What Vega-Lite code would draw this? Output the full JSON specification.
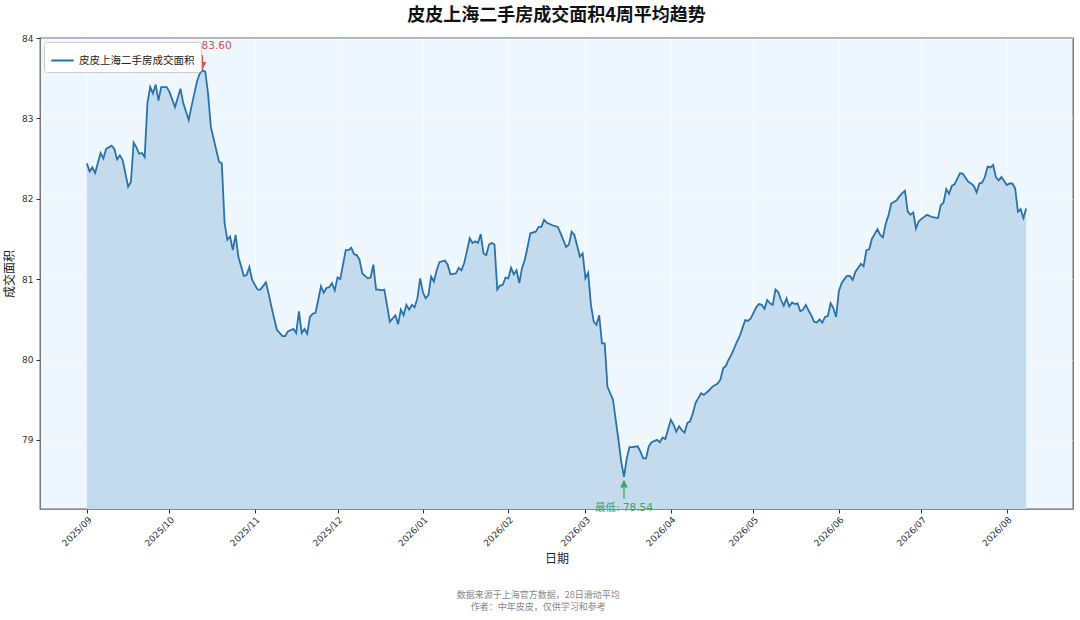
{
  "$schema": "https://vega.github.io/schema/vega-lite/v6.json",
  "background": "white",
  "padding": {"left": 2, "top": 6, "right": 5, "bottom": 5},
  "config": {
    "font": "DejaVu Sans, Noto Sans CJK SC",
    "view": {"fill": "#eef7fd", "stroke": "#666666", "strokeWidth": 1.3},
    "axis": {"domain": false, "tickColor": "#333333", "tickSize": 4, "labelColor": "#333333", "labelFontSize": 9, "gridColor": "#ffffff", "gridOpacity": 0.45, "titleColor": "#222222", "titleFontSize": 12, "titleFontWeight": "normal", "titleFont": "Noto Sans CJK SC, DejaVu Sans"}
  },
  "title": {
    "text": ["数据来源于上海官方数据，28日滑动平均", "作者：中年皮皮，仅供学习和参考"],
    "orient": "bottom",
    "anchor": "middle",
    "fontSize": 9,
    "fontWeight": "normal",
    "color": "#888888",
    "lineHeight": 12,
    "offset": 26,
    "font": "Noto Sans CJK SC, DejaVu Sans"
  },
  "vconcat": [
    {
      "width": 1033,
      "height": 471,
      "title": {"text": "皮皮上海二手房成交面积4周平均趋势", "fontSize": 18, "fontWeight": "bold", "color": "#111111", "offset": 9, "font": "Noto Sans CJK SC, DejaVu Sans"},
      "data": {"values": [
        {"date": "2025-09-01", "value": 82.44}, {"date": "2025-09-02", "value": 82.34}, {"date": "2025-09-03", "value": 82.39}, {"date": "2025-09-04", "value": 82.32},
        {"date": "2025-09-06", "value": 82.57}, {"date": "2025-09-07", "value": 82.50}, {"date": "2025-09-08", "value": 82.62}, {"date": "2025-09-10", "value": 82.66},
        {"date": "2025-09-11", "value": 82.62}, {"date": "2025-09-12", "value": 82.49}, {"date": "2025-09-13", "value": 82.54}, {"date": "2025-09-14", "value": 82.48},
        {"date": "2025-09-16", "value": 82.15}, {"date": "2025-09-17", "value": 82.21}, {"date": "2025-09-18", "value": 82.70}, {"date": "2025-09-19", "value": 82.64},
        {"date": "2025-09-20", "value": 82.56}, {"date": "2025-09-21", "value": 82.57}, {"date": "2025-09-22", "value": 82.52}, {"date": "2025-09-23", "value": 83.19},
        {"date": "2025-09-24", "value": 83.39}, {"date": "2025-09-25", "value": 83.31}, {"date": "2025-09-26", "value": 83.42}, {"date": "2025-09-27", "value": 83.22},
        {"date": "2025-09-28", "value": 83.39}, {"date": "2025-09-30", "value": 83.39}, {"date": "2025-10-01", "value": 83.33}, {"date": "2025-10-03", "value": 83.14},
        {"date": "2025-10-05", "value": 83.37}, {"date": "2025-10-06", "value": 83.19}, {"date": "2025-10-08", "value": 82.98}, {"date": "2025-10-09", "value": 83.15},
        {"date": "2025-10-11", "value": 83.46}, {"date": "2025-10-12", "value": 83.56}, {"date": "2025-10-13", "value": 83.60}, {"date": "2025-10-14", "value": 83.58},
        {"date": "2025-10-15", "value": 83.31}, {"date": "2025-10-16", "value": 82.90}, {"date": "2025-10-17", "value": 82.75}, {"date": "2025-10-19", "value": 82.46},
        {"date": "2025-10-20", "value": 82.44}, {"date": "2025-10-21", "value": 81.70}, {"date": "2025-10-22", "value": 81.49}, {"date": "2025-10-23", "value": 81.53},
        {"date": "2025-10-24", "value": 81.36}, {"date": "2025-10-25", "value": 81.55}, {"date": "2025-10-26", "value": 81.28}, {"date": "2025-10-28", "value": 81.04},
        {"date": "2025-10-29", "value": 81.05}, {"date": "2025-10-30", "value": 81.15}, {"date": "2025-10-31", "value": 80.99}, {"date": "2025-11-02", "value": 80.87},
        {"date": "2025-11-03", "value": 80.87}, {"date": "2025-11-05", "value": 80.96}, {"date": "2025-11-06", "value": 80.82}, {"date": "2025-11-07", "value": 80.66},
        {"date": "2025-11-08", "value": 80.51}, {"date": "2025-11-09", "value": 80.37}, {"date": "2025-11-11", "value": 80.29}, {"date": "2025-11-12", "value": 80.29},
        {"date": "2025-11-13", "value": 80.35}, {"date": "2025-11-15", "value": 80.38}, {"date": "2025-11-16", "value": 80.33}, {"date": "2025-11-17", "value": 80.60},
        {"date": "2025-11-18", "value": 80.33}, {"date": "2025-11-19", "value": 80.38}, {"date": "2025-11-20", "value": 80.32}, {"date": "2025-11-21", "value": 80.53},
        {"date": "2025-11-22", "value": 80.57}, {"date": "2025-11-23", "value": 80.58}, {"date": "2025-11-24", "value": 80.74}, {"date": "2025-11-25", "value": 80.91},
        {"date": "2025-11-26", "value": 80.83}, {"date": "2025-11-27", "value": 80.89}, {"date": "2025-11-28", "value": 80.90}, {"date": "2025-11-29", "value": 80.95},
        {"date": "2025-11-30", "value": 80.86}, {"date": "2025-12-01", "value": 81.02}, {"date": "2025-12-02", "value": 81.00}, {"date": "2025-12-03", "value": 81.18},
        {"date": "2025-12-04", "value": 81.36}, {"date": "2025-12-05", "value": 81.36}, {"date": "2025-12-06", "value": 81.39}, {"date": "2025-12-07", "value": 81.31},
        {"date": "2025-12-08", "value": 81.30}, {"date": "2025-12-09", "value": 81.24}, {"date": "2025-12-10", "value": 81.07}, {"date": "2025-12-12", "value": 81.01},
        {"date": "2025-12-13", "value": 81.02}, {"date": "2025-12-14", "value": 81.18}, {"date": "2025-12-15", "value": 80.87}, {"date": "2025-12-16", "value": 80.87},
        {"date": "2025-12-17", "value": 80.86}, {"date": "2025-12-18", "value": 80.87}, {"date": "2025-12-20", "value": 80.47}, {"date": "2025-12-21", "value": 80.51},
        {"date": "2025-12-22", "value": 80.55}, {"date": "2025-12-23", "value": 80.44}, {"date": "2025-12-24", "value": 80.62}, {"date": "2025-12-25", "value": 80.55},
        {"date": "2025-12-26", "value": 80.68}, {"date": "2025-12-27", "value": 80.62}, {"date": "2025-12-28", "value": 80.68}, {"date": "2025-12-29", "value": 80.65},
        {"date": "2025-12-30", "value": 80.76}, {"date": "2025-12-31", "value": 81.01}, {"date": "2026-01-01", "value": 80.84}, {"date": "2026-01-02", "value": 80.76},
        {"date": "2026-01-03", "value": 80.80}, {"date": "2026-01-04", "value": 81.03}, {"date": "2026-01-05", "value": 80.97}, {"date": "2026-01-06", "value": 81.11},
        {"date": "2026-01-07", "value": 81.21}, {"date": "2026-01-09", "value": 81.23}, {"date": "2026-01-10", "value": 81.18}, {"date": "2026-01-11", "value": 81.06},
        {"date": "2026-01-13", "value": 81.07}, {"date": "2026-01-14", "value": 81.14}, {"date": "2026-01-15", "value": 81.11}, {"date": "2026-01-16", "value": 81.20},
        {"date": "2026-01-17", "value": 81.35}, {"date": "2026-01-18", "value": 81.51}, {"date": "2026-01-19", "value": 81.45}, {"date": "2026-01-20", "value": 81.47},
        {"date": "2026-01-21", "value": 81.45}, {"date": "2026-01-22", "value": 81.56}, {"date": "2026-01-23", "value": 81.32}, {"date": "2026-01-24", "value": 81.30},
        {"date": "2026-01-25", "value": 81.43}, {"date": "2026-01-26", "value": 81.45}, {"date": "2026-01-27", "value": 81.43}, {"date": "2026-01-28", "value": 80.87},
        {"date": "2026-01-29", "value": 80.92}, {"date": "2026-01-30", "value": 80.93}, {"date": "2026-01-31", "value": 81.02}, {"date": "2026-02-01", "value": 81.01},
        {"date": "2026-02-02", "value": 81.14}, {"date": "2026-02-03", "value": 81.06}, {"date": "2026-02-04", "value": 81.11}, {"date": "2026-02-05", "value": 80.95},
        {"date": "2026-02-06", "value": 81.14}, {"date": "2026-02-07", "value": 81.24}, {"date": "2026-02-08", "value": 81.40}, {"date": "2026-02-09", "value": 81.57},
        {"date": "2026-02-11", "value": 81.59}, {"date": "2026-02-12", "value": 81.65}, {"date": "2026-02-13", "value": 81.65}, {"date": "2026-02-14", "value": 81.74},
        {"date": "2026-02-15", "value": 81.70}, {"date": "2026-02-17", "value": 81.67}, {"date": "2026-02-19", "value": 81.65}, {"date": "2026-02-20", "value": 81.57},
        {"date": "2026-02-22", "value": 81.40}, {"date": "2026-02-23", "value": 81.43}, {"date": "2026-02-24", "value": 81.59}, {"date": "2026-02-25", "value": 81.55},
        {"date": "2026-02-27", "value": 81.28}, {"date": "2026-02-28", "value": 81.32}, {"date": "2026-03-01", "value": 81.01}, {"date": "2026-03-02", "value": 81.08},
        {"date": "2026-03-03", "value": 80.68}, {"date": "2026-03-04", "value": 80.47}, {"date": "2026-03-05", "value": 80.43}, {"date": "2026-03-06", "value": 80.55},
        {"date": "2026-03-07", "value": 80.20}, {"date": "2026-03-08", "value": 80.20}, {"date": "2026-03-09", "value": 79.66}, {"date": "2026-03-10", "value": 79.58},
        {"date": "2026-03-11", "value": 79.50}, {"date": "2026-03-12", "value": 79.25}, {"date": "2026-03-13", "value": 79.00}, {"date": "2026-03-14", "value": 78.73},
        {"date": "2026-03-15", "value": 78.54}, {"date": "2026-03-16", "value": 78.77}, {"date": "2026-03-17", "value": 78.91}, {"date": "2026-03-18", "value": 78.91},
        {"date": "2026-03-20", "value": 78.92}, {"date": "2026-03-21", "value": 78.85}, {"date": "2026-03-22", "value": 78.77}, {"date": "2026-03-23", "value": 78.77},
        {"date": "2026-03-24", "value": 78.92}, {"date": "2026-03-25", "value": 78.97}, {"date": "2026-03-27", "value": 79.00}, {"date": "2026-03-28", "value": 78.97},
        {"date": "2026-03-29", "value": 79.03}, {"date": "2026-03-30", "value": 79.01}, {"date": "2026-04-01", "value": 79.25}, {"date": "2026-04-02", "value": 79.19},
        {"date": "2026-04-03", "value": 79.10}, {"date": "2026-04-04", "value": 79.17}, {"date": "2026-04-05", "value": 79.12}, {"date": "2026-04-06", "value": 79.09},
        {"date": "2026-04-07", "value": 79.21}, {"date": "2026-04-08", "value": 79.23}, {"date": "2026-04-09", "value": 79.33}, {"date": "2026-04-10", "value": 79.46},
        {"date": "2026-04-12", "value": 79.58}, {"date": "2026-04-13", "value": 79.56}, {"date": "2026-04-15", "value": 79.62}, {"date": "2026-04-16", "value": 79.66},
        {"date": "2026-04-18", "value": 79.70}, {"date": "2026-04-19", "value": 79.75}, {"date": "2026-04-20", "value": 79.89}, {"date": "2026-04-21", "value": 79.92},
        {"date": "2026-04-22", "value": 80.00}, {"date": "2026-04-23", "value": 80.06}, {"date": "2026-04-24", "value": 80.14}, {"date": "2026-04-25", "value": 80.22},
        {"date": "2026-04-26", "value": 80.29}, {"date": "2026-04-27", "value": 80.39}, {"date": "2026-04-28", "value": 80.49}, {"date": "2026-04-29", "value": 80.48},
        {"date": "2026-04-30", "value": 80.51}, {"date": "2026-05-01", "value": 80.58}, {"date": "2026-05-02", "value": 80.65}, {"date": "2026-05-03", "value": 80.69},
        {"date": "2026-05-04", "value": 80.68}, {"date": "2026-05-05", "value": 80.63}, {"date": "2026-05-06", "value": 80.74}, {"date": "2026-05-07", "value": 80.70},
        {"date": "2026-05-08", "value": 80.68}, {"date": "2026-05-09", "value": 80.87}, {"date": "2026-05-10", "value": 80.84}, {"date": "2026-05-11", "value": 80.74},
        {"date": "2026-05-12", "value": 80.67}, {"date": "2026-05-13", "value": 80.76}, {"date": "2026-05-14", "value": 80.66}, {"date": "2026-05-15", "value": 80.71},
        {"date": "2026-05-16", "value": 80.69}, {"date": "2026-05-17", "value": 80.70}, {"date": "2026-05-18", "value": 80.60}, {"date": "2026-05-19", "value": 80.62},
        {"date": "2026-05-20", "value": 80.68}, {"date": "2026-05-21", "value": 80.61}, {"date": "2026-05-22", "value": 80.55}, {"date": "2026-05-23", "value": 80.47},
        {"date": "2026-05-24", "value": 80.46}, {"date": "2026-05-25", "value": 80.50}, {"date": "2026-05-26", "value": 80.46}, {"date": "2026-05-27", "value": 80.53},
        {"date": "2026-05-28", "value": 80.54}, {"date": "2026-05-29", "value": 80.70}, {"date": "2026-05-30", "value": 80.64}, {"date": "2026-05-31", "value": 80.53},
        {"date": "2026-06-01", "value": 80.85}, {"date": "2026-06-02", "value": 80.95}, {"date": "2026-06-03", "value": 81.00}, {"date": "2026-06-04", "value": 81.04},
        {"date": "2026-06-05", "value": 81.04}, {"date": "2026-06-06", "value": 80.99}, {"date": "2026-06-07", "value": 81.09}, {"date": "2026-06-09", "value": 81.19},
        {"date": "2026-06-10", "value": 81.16}, {"date": "2026-06-11", "value": 81.36}, {"date": "2026-06-12", "value": 81.37}, {"date": "2026-06-13", "value": 81.50},
        {"date": "2026-06-14", "value": 81.56}, {"date": "2026-06-15", "value": 81.62}, {"date": "2026-06-16", "value": 81.55}, {"date": "2026-06-17", "value": 81.52},
        {"date": "2026-06-18", "value": 81.69}, {"date": "2026-06-19", "value": 81.79}, {"date": "2026-06-20", "value": 81.94}, {"date": "2026-06-22", "value": 81.98},
        {"date": "2026-06-23", "value": 82.03}, {"date": "2026-06-24", "value": 82.07}, {"date": "2026-06-25", "value": 82.10}, {"date": "2026-06-26", "value": 81.84},
        {"date": "2026-06-27", "value": 81.80}, {"date": "2026-06-28", "value": 81.83}, {"date": "2026-06-29", "value": 81.63}, {"date": "2026-06-30", "value": 81.72},
        {"date": "2026-07-01", "value": 81.75}, {"date": "2026-07-03", "value": 81.80}, {"date": "2026-07-05", "value": 81.77}, {"date": "2026-07-07", "value": 81.76},
        {"date": "2026-07-08", "value": 81.92}, {"date": "2026-07-09", "value": 81.95}, {"date": "2026-07-10", "value": 82.12}, {"date": "2026-07-11", "value": 82.06},
        {"date": "2026-07-12", "value": 82.16}, {"date": "2026-07-13", "value": 82.18}, {"date": "2026-07-15", "value": 82.32}, {"date": "2026-07-16", "value": 82.31},
        {"date": "2026-07-18", "value": 82.21}, {"date": "2026-07-19", "value": 82.19}, {"date": "2026-07-20", "value": 82.16}, {"date": "2026-07-21", "value": 82.08},
        {"date": "2026-07-22", "value": 82.19}, {"date": "2026-07-23", "value": 82.20}, {"date": "2026-07-24", "value": 82.27}, {"date": "2026-07-25", "value": 82.40},
        {"date": "2026-07-26", "value": 82.39}, {"date": "2026-07-27", "value": 82.42}, {"date": "2026-07-28", "value": 82.27}, {"date": "2026-07-29", "value": 82.23},
        {"date": "2026-07-30", "value": 82.27}, {"date": "2026-08-01", "value": 82.17}, {"date": "2026-08-02", "value": 82.19}, {"date": "2026-08-03", "value": 82.19},
        {"date": "2026-08-04", "value": 82.13}, {"date": "2026-08-05", "value": 81.84}, {"date": "2026-08-06", "value": 81.87}, {"date": "2026-08-07", "value": 81.76},
        {"date": "2026-08-08", "value": 81.88}
      ]},
      "encoding": {
        "x": {
          "field": "date", "type": "temporal",
          "scale": {"type": "utc", "domain": [{"year": 2025, "month": 8, "date": 15, "utc": true}, {"year": 2026, "month": 8, "date": 25, "utc": true}], "nice": false},
          "axis": {"format": "%Y/%m", "labelAngle": -45, "labelAlign": "right", "labelBaseline": "top", "tickCount": {"interval": "month", "step": 1}, "title": "日期", "labelPadding": 2, "titlePadding": 6, "grid": true, "labelFlush": false, "labelOverlap": false}
        },
        "y": {
          "field": "value", "type": "quantitative",
          "scale": {"domain": [78.14, 84], "nice": false, "zero": false},
          "axis": {"values": [79, 80, 81, 82, 83, 84], "format": "d", "title": "成交面积", "labelPadding": 3, "titlePadding": 5, "grid": true}
        }
      },
      "layer": [
        {
          "mark": {"type": "area", "color": "#c4dbee", "opacity": 1},
          "encoding": {"y2": {"datum": 78.14}}
        },
        {
          "mark": {"type": "line", "strokeWidth": 1.8},
          "encoding": {
            "color": {
              "datum": "皮皮上海二手房成交面积",
              "type": "nominal",
              "scale": {"range": ["#2a72aa"]},
              "legend": {"orient": "top-left", "offset": 4, "title": null, "symbolType": "stroke", "symbolStrokeWidth": 2, "symbolSize": 500, "labelFontSize": 10.5, "labelFont": "Noto Sans CJK SC", "labelColor": "#222222", "fillColor": "#ffffff", "strokeColor": "#cccccc", "padding": 6, "cornerRadius": 3}
            }
          }
        },
        {
          "data": {"values": [{"date": "2025-10-13", "value": 83.60, "label": "83.60"}]},
          "layer": [
            {
              "mark": {"type": "point", "shape": "M0,-1.5L0,-0.6M-0.28,-0.75L0,-0.17L0.28,-0.75Z", "size": 400, "filled": true, "fill": "#d9534f", "stroke": "#d9534f", "strokeWidth": 1.2, "opacity": 1},
              "encoding": {}
            },
            {
              "mark": {"type": "text", "align": "left", "baseline": "middle", "dx": -1, "dy": -24, "fontSize": 10.5, "color": "#d9534f"},
              "encoding": {"text": {"field": "label"}}
            }
          ]
        },
        {
          "data": {"values": [{"date": "2026-03-15", "value": 78.54, "label": "最低: 78.54"}]},
          "layer": [
            {
              "mark": {"type": "point", "shape": "M0,2.2L0,1.0M-0.28,1.0L0,0.42L0.28,1.0Z", "size": 400, "filled": true, "fill": "#3fa265", "stroke": "#3fa265", "strokeWidth": 1.2, "opacity": 1},
              "encoding": {}
            },
            {
              "mark": {"type": "text", "align": "center", "baseline": "middle", "dy": 31, "fontSize": 10.5, "color": "#3fa265", "font": "DejaVu Sans, Noto Sans CJK SC"},
              "encoding": {"text": {"field": "label"}}
            }
          ]
        }
      ]
    }
  ]
}
